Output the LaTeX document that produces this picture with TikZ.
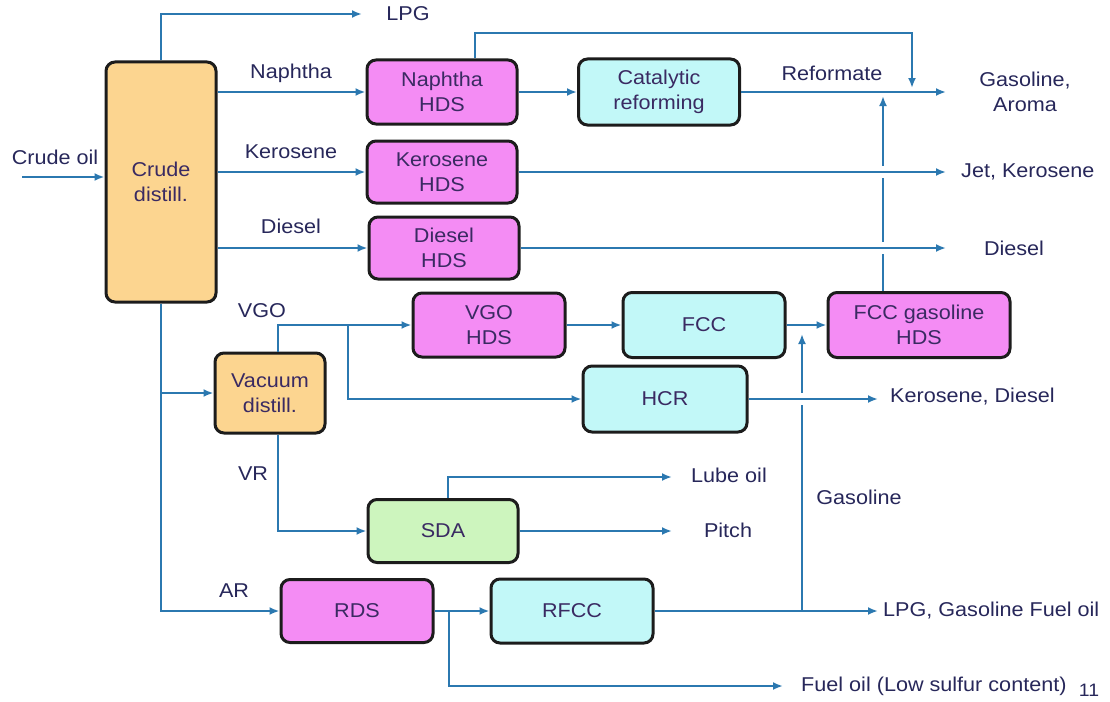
\documentclass[tikz,border=0pt]{standalone}
\usepackage{fontspec}
\setmainfont{Liberation Sans}[FakeStretch=1.08]
\usetikzlibrary{arrows.meta,calc}
\definecolor{lineblue}{HTML}{2B78B0}
\definecolor{txt}{HTML}{27275A}
\definecolor{boxtxt}{HTML}{3A2A62}
\definecolor{orangefill}{HTML}{FCD590}
\definecolor{magfill}{HTML}{F48CF4}
\definecolor{cyanfill}{HTML}{C2F8F8}
\definecolor{greenfill}{HTML}{CDF5BE}
\definecolor{border}{HTML}{1C1C1C}
\begin{document}
\begin{tikzpicture}[x=1pt,y=-1pt,
  font=\fontsize{20}{25}\selectfont,
  unit/.style={draw=border, line width=3pt, rounded corners=9pt, align=center, text=boxtxt, inner sep=2pt},
  orangebox/.style={unit, fill=orangefill},
  magbox/.style={unit, fill=magfill},
  cyanbox/.style={unit, fill=cyanfill},
  greenbox/.style={unit, fill=greenfill},
  flow/.style={draw=lineblue, line width=2.9pt},
  arr/.style={flow, -{Latex[length=10pt,width=8pt]}},
  gap/.style={preaction={draw=white, line width=12pt, -{}}},
  lbl/.style={text=txt, inner sep=0pt, align=center}
]
\useasboundingbox (0,0) rectangle (1110,701);

% boxes
\node[orangebox, minimum width=110pt, minimum height=240pt] (crude) at (161,182) {Crude\\distill.};
\node[magbox, minimum width=150pt, minimum height=64pt] (nhds) at (442,92) {Naphtha\\HDS};
\node[cyanbox, minimum width=161pt, minimum height=66pt] (cat) at (659,92) {Catalytic\\reforming};
\node[magbox, minimum width=150pt, minimum height=62pt] (khds) at (442,172) {Kerosene\\HDS};
\node[magbox, minimum width=150pt, minimum height=62pt] (dhds) at (444,248) {Diesel\\HDS};
\node[orangebox, minimum width=110pt, minimum height=80pt] (vac) at (270,393) {Vacuum\\distill.};
\node[magbox, minimum width=152pt, minimum height=64pt] (vgohds) at (489,325) {VGO\\HDS};
\node[cyanbox, minimum width=162pt, minimum height=65pt] (fcc) at (704,325) {FCC};
\node[magbox, minimum width=182pt, minimum height=65pt] (fgh) at (919,325) {FCC gasoline\\HDS};
\node[cyanbox, minimum width=164pt, minimum height=66pt] (hcr) at (665,399) {HCR};
\node[greenbox, minimum width=150pt, minimum height=63pt] (sda) at (443,531) {SDA};
\node[magbox, minimum width=152pt, minimum height=63pt] (rds) at (357,611) {RDS};
\node[cyanbox, minimum width=162pt, minimum height=64pt] (rfcc) at (572,611) {RFCC};

% end coordinates
\coordinate (cin) at (22,177);
\coordinate (lpgend) at (362,14);
\coordinate (bp1) at (912,33);
\coordinate (bp2) at (912,88);
\coordinate (gasend) at (946,92);
\coordinate (fghup) at (883,96);
\coordinate (jetend) at (946,172);
\coordinate (dslend) at (946,248);
\coordinate (vb) at (348,325);
\coordinate (hcrend) at (878,399);
\coordinate (lubeend) at (672,477);
\coordinate (pitchend) at (672,531);
\coordinate (fb) at (449,611);
\coordinate (fuelend) at (783,686);
\coordinate (rfccend) at (878,611);
\coordinate (gsplit) at (802,611);
\coordinate (gtip) at (802,334);

% connectors (verticals first)
\draw[arr] ($(fgh.north)+(-36,0)$) -- (fghup);
\draw[arr] (gsplit) -- (gtip);

\draw[arr] (cin) -- (cin -| crude.west);
\draw[arr] (crude.north) |- (lpgend);
\draw[arr] (crude.east |- nhds.west) -- (nhds.west);
\draw[arr] (crude.east |- khds.west) -- (khds.west);
\draw[arr] (crude.east |- dhds.west) -- (dhds.west);
\draw[arr] (nhds.east) -- (cat.west);
\draw[arr] (cat.east) -- (gasend);
\draw[arr] ($(nhds.north)+(33,0)$) |- (bp1) -- (bp2);
\draw[arr, gap] (khds.east) -- (jetend);
\draw[arr, gap] (dhds.east) -- (dslend);

\draw[arr] (crude.south) |- (rds.west);
\draw[arr] (crude.south |- vac.west) -- (vac.west);
\draw[arr] ($(vac.north)+(8,0)$) |- (vgohds.west);
\draw[arr] (vb) |- (hcr.west);
\draw[arr] (vgohds.east) -- (fcc.west);
\draw[arr] (fcc.east) -- (fgh.west);
\draw[arr, gap] (hcr.east) -- (hcrend);

\draw[arr] ($(vac.south)+(8,0)$) |- (sda.west);
\draw[arr] ($(sda.north)+(5,0)$) |- (lubeend);
\draw[arr] (sda.east) -- (pitchend);

\draw[arr] (rds.east) -- (rfcc.west);
\draw[arr] (fb) |- (fuelend);
\draw[arr] (rfcc.east) -- (rfccend);

% labels
\node[lbl] (tcrudeoil) at (55,157) {Crude oil};
\node[lbl] (tlpg) at (408,14) {LPG};
\node[lbl] (tnaph) at (291,73) {Naphtha};
\node[lbl] (tkero) at (291,152) {Kerosene};
\node[lbl] (tdsl) at (291,226) {Diesel};
\node[lbl] (tref) at (832,73) {Reformate};
\node[lbl] (tgas) at (1025,92) {Gasoline,\\Aroma};
\node[lbl, anchor=west] (tjet) at (961,172) {Jet, Kerosene};
\node[lbl] (tdslout) at (1014,248) {Diesel};
\node[lbl] (tvgo) at (262,311) {VGO};
\node[lbl, anchor=west] (tkd) at (890,397) {Kerosene, Diesel};
\node[lbl] (tvr) at (253,474) {VR};
\node[lbl] (tlube) at (729,475) {Lube oil};
\node[lbl] (tpitch) at (728,530) {Pitch};
\node[lbl] (tgasoline) at (859,497) {Gasoline};
\node[lbl] (tar) at (234,591) {AR};
\node[lbl, anchor=west] (tlpgout) at (883,611) {LPG, Gasoline Fuel oil};
\node[lbl, anchor=west] (tfuel) at (801,686) {Fuel oil (Low sulfur content)};
\node[lbl, font=\fontsize{18}{20}\selectfont] (tpage) at (1089,690) {11};
\end{tikzpicture}
\end{document}
